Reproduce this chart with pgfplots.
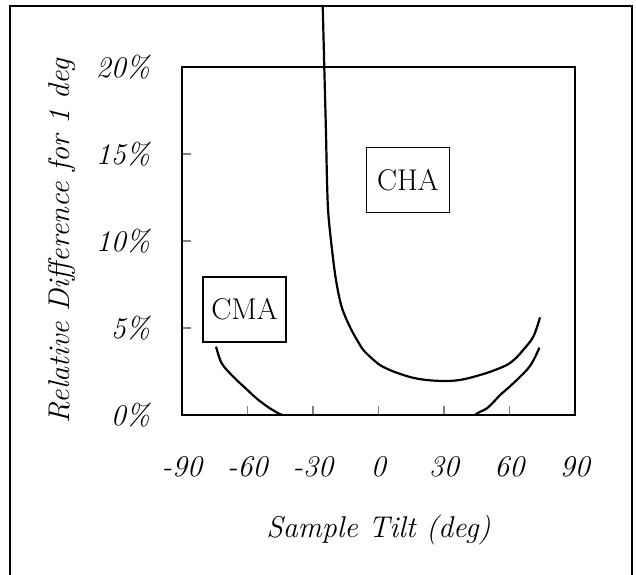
\documentclass[border=0pt]{standalone}
\usepackage{pgfplots}
\pgfplotsset{compat=1.18}

\pgfplotstableread{
x y
-25.56 23.56
-24.83 20.0
-24.05 16.21
-23.59 13.51
-23.0 11.61
-21.44 9.66
-19.47 7.76
-16.86 6.21
-13.06 5.06
-10.0 4.35
-6.96 3.74
-3.0 3.25
0.69 2.87
5.5 2.57
11.36 2.30
16.5 2.12
22.08 2.01
28.0 1.96
34.3 1.97
40.0 2.08
46.5 2.30
52.0 2.52
58.7 2.87
62.5 3.22
66.3 3.74
70.9 4.50
74.0 5.61
}\cha

\pgfplotstableread{
x y
-74.4 3.93
-71.8 2.97
-66.5 2.2
-61.0 1.55
-55.8 0.95
-50.5 0.45
-45.9 0.1
-44.0 0.0
}\cmaleft

\pgfplotstableread{
x y
44.2 0.0
46.0 0.15
49.6 0.38
52.5 0.72
55.7 1.15
60.0 1.62
64.9 2.2
68.0 2.6
70.2 2.97
72.0 3.4
73.7 3.87
}\cmaright

\begin{document}
\begin{tikzpicture}[x=1pt,y=1pt]
\useasboundingbox (-91,-79.5) rectangle (227,207.5);
\draw[line width=0.7pt] (-86,-80) -- (-86,204.5) -- (225,204.5) -- (225,-80);
\begin{axis}[
    at={(0,0)}, anchor=south west,
    scale only axis,
    width=196.5pt, height=174pt,
    xmin=-90, xmax=90, ymin=0, ymax=20,
    clip=false,
    axis line style={line width=0.8pt},
    tick pos=left,
    tick align=inside,
    major tick style={line width=0.6pt},
    xtick={-90,-60,-30,0,30,60,90},
    xticklabels={-90,-60,-30,0,30,60,90},
    ytick={0,5,10,15,20},
    yticklabels={0\%,5\%,10\%,15\%,20\%},
    tick label style={font=\fontsize{15}{18}\selectfont\itshape},
    xticklabel style={yshift=-17pt},
    yticklabel style={xshift=-12.5pt},
    xlabel={Sample Tilt (deg)},
    ylabel={Relative Difference for 1 deg},
    label style={font=\fontsize{15}{18}\selectfont\itshape},
    xlabel style={at={(axis description cs:0.5,0)}, anchor=center, yshift=-57.5pt},
    ylabel style={at={(axis description cs:0,0.5)}, anchor=center, yshift=60pt},
    every axis plot/.append style={black, line width=1.1pt},
]
\addplot[smooth, tension=0.55] table[x=x, y=y] {\cha};
\addplot[smooth, tension=0.55] table[x=x, y=y] {\cmaleft};
\addplot[smooth, tension=0.55] table[x=x, y=y] {\cmaright};
\node[draw, line width=0.7pt, fill=white, minimum width=41.5pt, minimum height=32.5pt,
      font=\fontsize{15}{18}\selectfont] at (axis cs:13.5,13.5) {CHA};
\node[draw, line width=0.7pt, fill=white, minimum width=41.5pt, minimum height=32.5pt,
      font=\fontsize{15}{18}\selectfont] at (axis cs:-61.4,6.06) {CMA};
\end{axis}
\end{tikzpicture}
\end{document}
